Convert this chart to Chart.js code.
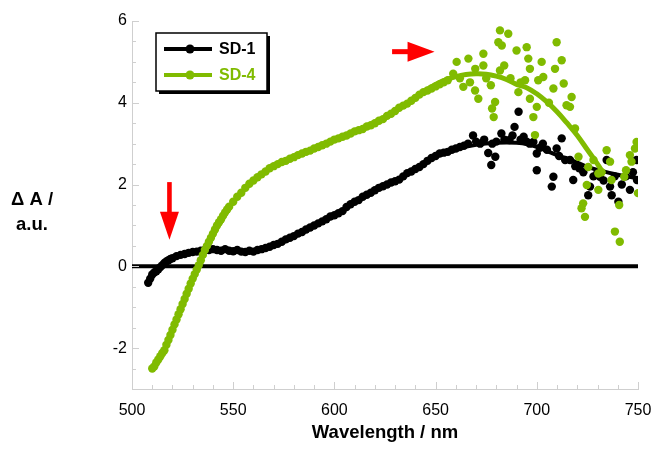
<!DOCTYPE html>
<html>
<head>
<meta charset="utf-8">
<script src="https://cdn.jsdelivr.net/npm/chart.js@4.4.1/dist/chart.umd.min.js"></script>
<style>
html,body{margin:0;padding:0;background:#fff;}
canvas{display:block;}
</style>
</head>
<body>
<canvas id="c" width="654" height="453"></canvas>
<script>
// ---- Data ----
const sd1Wavelength = [508,509,510,511,512,513,514,515,516,517,518,519,520,522,524,526,528,530,532,534,536,538,540,542,544,546,548,550,552,554,556,558,560,562,564,566,568,570,572,574,576,578,580,582,584,586,588,590,592,594,596,598,600,602,604,606,608,610,612,614,616,618,620,622,624,626,628,630,632,634,636,638,640,642,644,646,648,650,652,654,656,658,660,662,664,
  666,668.5,670,672,674,676,677.5,678,679.5,680,682.5,684,686.5,688,689,691,692,693.5,695,696.5,698.3,700,700,701.5,703,705,707.4,708.2,709.8,711,712.3,714,716.4,718,719,721,723,725.4,726.3,728,730,731.2,733,734.5,736.2,737,738.5,740.3,742,744,746,747.5,749.3,749.5];
const sd1Values = [-0.4,-0.3,-0.2,-0.15,-0.12,-0.07,-0.02,0.03,0.08,0.12,0.15,0.18,0.2,0.25,0.28,0.3,0.33,0.35,0.36,0.38,0.4,0.4,0.42,0.4,0.38,0.42,0.38,0.37,0.4,0.36,0.35,0.38,0.36,0.4,0.42,0.45,0.48,0.52,0.55,0.6,0.66,0.7,0.74,0.8,0.84,0.9,0.95,1.0,1.05,1.1,1.15,1.22,1.25,1.3,1.35,1.45,1.52,1.58,1.62,1.7,1.75,1.8,1.86,1.92,1.96,2.0,2.05,2.08,2.12,2.2,2.28,2.32,2.38,2.43,2.5,2.58,2.65,2.7,2.76,2.78,2.8,2.85,2.88,2.92,2.95,
  3.0,3.2,3.05,3.0,3.1,2.77,2.48,3.0,2.68,3.05,3.25,3.1,3.09,3.2,3.41,3.78,3.1,3.17,3.05,3.0,3.04,2.76,2.35,2.9,3.0,2.85,1.95,2.19,2.88,2.7,3.13,2.6,2.6,2.11,2.45,2.4,2.3,1.74,1.95,2.2,2.3,2.19,2.1,2.6,1.95,1.74,2.2,1.58,2.0,2.2,1.87,2.3,2.6,2.11];

const sd4Wavelength = [510,511,512,513,514,515,516,517,518,519,520,521,522,523,524,525,526,527,528,529,530,531,532,533,534,535,536,537,538,539,540,541,542,543,544,545,546,547,548,550,552,554,556,558,560,562,564,566,568,570,572,574,576,578,580,582,584,586,588,590,592,594,596,598,600,602,604,606,608,610,612,614,616,618,620,622,624,626,628,630,632,634,636,638,640,642,644,646,648,650,652,654,656,
  658.7,660.4,662,663.7,666.2,667,669.5,669.6,671.1,673.6,673.6,675,677.3,677.9,678.7,679.4,681,681.8,681.8,682.7,683.9,685.9,687,690,690.9,692,694.2,695,695.8,696.6,696.6,698.3,699.1,700,700.7,702.4,703.2,706,708.2,709,709.8,712.3,713.3,714.7,716.4,717.2,718.9,720.6,722.1,722.9,723.8,724.7,725.4,728,730.4,730.4,732,734.5,736.2,736.9,738.6,740.7,741,743.2,744.1,746,746.8,748.5,749.3,750];
const sd4Values = [-2.5,-2.45,-2.35,-2.28,-2.2,-2.12,-2.05,-1.92,-1.8,-1.68,-1.55,-1.42,-1.3,-1.17,-1.05,-0.92,-0.8,-0.67,-0.55,-0.42,-0.3,-0.19,-0.08,0.03,0.15,0.28,0.4,0.5,0.6,0.7,0.8,0.9,1.0,1.08,1.15,1.24,1.32,1.39,1.46,1.58,1.7,1.8,1.92,2.02,2.1,2.18,2.25,2.32,2.4,2.45,2.5,2.55,2.58,2.63,2.67,2.72,2.76,2.8,2.83,2.88,2.92,2.96,3.0,3.05,3.1,3.13,3.17,3.2,3.25,3.3,3.33,3.36,3.42,3.45,3.5,3.56,3.6,3.68,3.73,3.8,3.88,3.93,3.98,4.05,4.12,4.2,4.26,4.3,4.35,4.4,4.45,4.5,4.55,
  4.71,5.0,4.6,4.39,5.08,4.5,4.3,4.83,4.1,5.2,4.91,4.6,4.43,3.86,3.65,4.02,5.48,5.77,4.79,5.4,4.91,5.69,4.6,5.28,4.26,4.5,4.55,5.36,5.08,4.83,4.1,3.65,3.21,3.9,4.55,5.0,4.63,4.0,4.35,4.83,5.48,5.04,4.47,3.94,3.9,4.14,3.37,2.68,1.42,1.54,1.21,1.99,2.43,2.6,2.27,1.87,2.3,2.84,2.56,2.11,0.85,1.5,0.6,2.19,2.35,2.72,2.56,2.88,3.04,1.79];

const sd1FitWavelength = [650,660,670,680,690,696,700,710,718,724,730,740,750];
const sd1FitValues = [2.7,2.86,2.97,3.02,3.02,2.98,2.92,2.72,2.58,2.45,2.36,2.24,2.15];

const sd4FitWavelength = [640,645,650,655,660,665,670,675,680,685,690,695,700,705,710,715,720,725,730,733];
const sd4FitValues = [4.12,4.3,4.45,4.56,4.64,4.69,4.71,4.7,4.65,4.57,4.45,4.37,4.22,4.02,3.78,3.5,3.2,2.85,2.5,2.27];

const zeroLineWavelength = [500,750];
const zeroLineValues = [0,0];

const xTickValues = [500,550,600,650,700,750];
const yTickValues = [-2,0,2,4,6];
const seriesNames = ['SD-1','SD-4'];

const BLACK = '#000000';
const GREEN = 'rgb(128,187,0)';
const FONT = '"Liberation Sans", Arial, Helvetica, sans-serif';

const pts = (xs, ys) => xs.map((x, i) => ({x: x, y: ys[i]}));

const overlay = {
  id: 'overlay',
  afterDraw(chart) {
    const ctx = chart.ctx;
    const xs = chart.scales.x, ys = chart.scales.y;
    const a = chart.chartArea;
    ctx.save();
    // ticks (inside)
    ctx.strokeStyle = '#cfcfcf';
    ctx.lineWidth = 1;
    ctx.beginPath();
    for (let v = 500; v <= 750; v += 10) {
      const px = Math.round(xs.getPixelForValue(v)) + 0.5;
      const len = (v % 50 === 0) ? 7 : 4;
      ctx.moveTo(px, a.bottom); ctx.lineTo(px, a.bottom - len);
    }
    for (let v = -3; v <= 6.001; v += 0.5) {
      const py = Math.round(ys.getPixelForValue(v)) + 0.5;
      const len = (Math.abs(v % 2) < 1e-6) ? 7 : 4;
      ctx.moveTo(a.left, py); ctx.lineTo(a.left + len, py);
    }
    ctx.stroke();

    // arrows
    ctx.fillStyle = '#ff0000';
    const dx = xs.getPixelForValue(518.5);
    const dTop = ys.getPixelForValue(2.06);
    const dTip = ys.getPixelForValue(0.65);
    ctx.fillRect(dx - 2.3, dTop, 4.6, (dTip - dTop) - 26);
    ctx.beginPath();
    ctx.moveTo(dx - 9.5, dTip - 28);
    ctx.lineTo(dx + 9.5, dTip - 28);
    ctx.lineTo(dx, dTip);
    ctx.closePath(); ctx.fill();
    const rY = ys.getPixelForValue(5.25);
    const rL = xs.getPixelForValue(628.5);
    const rT = xs.getPixelForValue(649.5);
    ctx.fillRect(rL, rY - 2.5, (rT - rL) - 24, 5);
    ctx.beginPath();
    ctx.moveTo(rT - 27, rY - 10);
    ctx.lineTo(rT - 27, rY + 10);
    ctx.lineTo(rT, rY);
    ctx.closePath(); ctx.fill();

    // legend
    const lx = 156, ly = 33, lw = 111, lh = 58;
    ctx.fillStyle = '#000';
    ctx.fillRect(lx + 3, ly + 3, lw, lh);
    ctx.fillStyle = '#fff';
    ctx.fillRect(lx, ly, lw, lh);
    ctx.strokeStyle = '#000';
    ctx.lineWidth = 1.5;
    ctx.strokeRect(lx, ly, lw, lh);
    const cols = [BLACK, GREEN];
    const rowsY = [49, 75];
    ctx.font = 'bold 16px ' + FONT;
    ctx.textBaseline = 'middle';
    ctx.textAlign = 'left';
    for (let i = 0; i < 2; i++) {
      ctx.strokeStyle = cols[i];
      ctx.lineWidth = 4;
      ctx.beginPath();
      ctx.moveTo(164, rowsY[i]); ctx.lineTo(212, rowsY[i]);
      ctx.stroke();
      ctx.fillStyle = cols[i];
      ctx.beginPath();
      ctx.arc(190, rowsY[i], 4.5, 0, Math.PI * 2);
      ctx.fill();
      ctx.fillText(seriesNames[i], 219, rowsY[i] + 1);
    }

    // axis titles
    ctx.fillStyle = '#000';
    ctx.textAlign = 'center';
    ctx.textBaseline = 'alphabetic';
    ctx.font = 'bold 18.5px ' + FONT;
    ctx.fillText('Wavelength / nm', (a.left + a.right) / 2, 438);
    ctx.fillText('\u0394 A /', 32, 205);
    ctx.fillText('a.u.', 32, 230);
    ctx.restore();
  }
};

new Chart(document.getElementById('c'), {
  type: 'scatter',
  data: {
    datasets: [
      { label: 'zero', data: pts(zeroLineWavelength, zeroLineValues), showLine: true, borderColor: BLACK, borderWidth: 4, pointRadius: 0, order: 10 },
      { label: 'SD-1', data: pts(sd1Wavelength, sd1Values), backgroundColor: BLACK, borderWidth: 0, pointRadius: 4.2, order: 5 },
      { label: 'SD-1 fit', data: pts(sd1FitWavelength, sd1FitValues), showLine: true, borderColor: BLACK, borderWidth: 4, pointRadius: 0, tension: 0.4, order: 4 },
      { label: 'SD-4', data: pts(sd4Wavelength, sd4Values), backgroundColor: GREEN, borderWidth: 0, pointRadius: 4.2, order: 3 },
      { label: 'SD-4 fit', data: pts(sd4FitWavelength, sd4FitValues), showLine: true, borderColor: GREEN, borderWidth: 5, pointRadius: 0, tension: 0.4, order: 2 }
    ]
  },
  options: {
    responsive: false,
    animation: false,
    events: [],
    layout: { padding: { left: 0, top: 21, right: 16, bottom: 0 } },
    plugins: { legend: { display: false }, tooltip: { enabled: false } },
    scales: {
      x: {
        type: 'linear', min: 500, max: 750,
        grid: { display: false, drawTicks: false },
        border: { display: true, color: '#cfcfcf', width: 1 },
        afterBuildTicks: (s) => { s.ticks = xTickValues.map(v => ({ value: v })); },
        afterFit: (s) => { s.height = 64; s.paddingLeft = 0; s.paddingRight = 0; },
        ticks: { color: '#000', padding: 12, maxRotation: 0, autoSkip: false, font: { family: FONT, size: 16 } }
      },
      y: {
        type: 'linear', min: -3, max: 6,
        grid: { display: false, drawTicks: false },
        border: { display: true, color: '#cfcfcf', width: 1 },
        afterBuildTicks: (s) => { s.ticks = yTickValues.map(v => ({ value: v })); },
        afterFit: (s) => { s.width = 132; s.paddingTop = 0; s.paddingBottom = 0; },
        ticks: { color: '#000', padding: 5, autoSkip: false, font: { family: FONT, size: 16 } }
      }
    }
  },
  plugins: [overlay]
});
</script>
</body>
</html>
